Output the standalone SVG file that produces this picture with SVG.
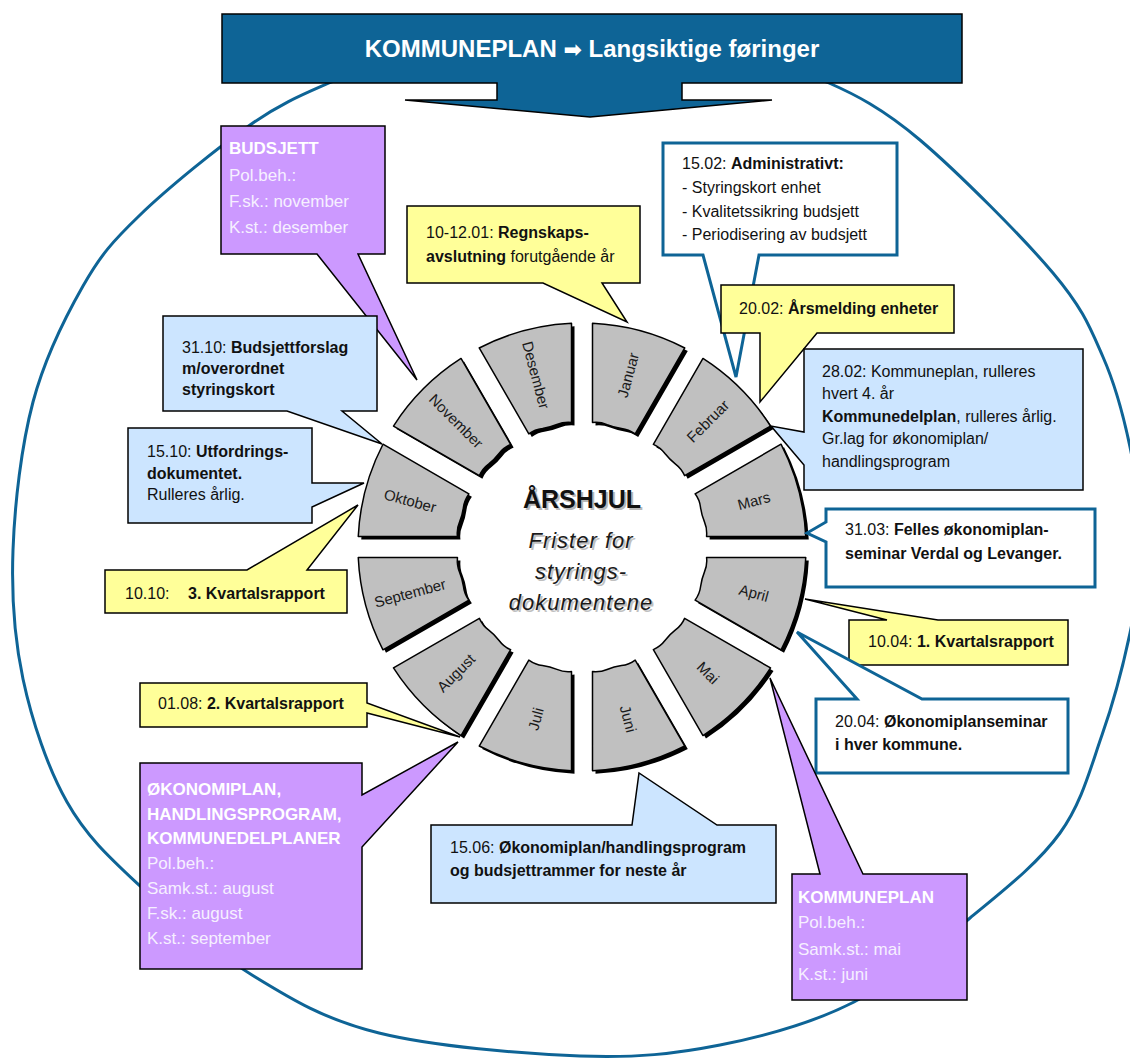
<svg xmlns="http://www.w3.org/2000/svg" xmlns:xlink="http://www.w3.org/1999/xlink" width="1130" height="1059" viewBox="0 0 1130 1059">
<style>
.seg{fill:#c0c0c0;stroke:#000;stroke-width:1.5;stroke-linejoin:round}
.segsh{fill:#000}
.mon{font-family:'Liberation Sans',Arial,sans-serif;font-size:15px;fill:#1a1a1a;text-anchor:middle}
.y{fill:#ffff99;stroke:#000;stroke-width:1.5}
.b{fill:#cce5ff;stroke:#000;stroke-width:1.5}
.w{fill:#fff;stroke:#0e6496;stroke-width:3}
.p{fill:#cc99ff;stroke:#000;stroke-width:1.5}
.t{font-family:'Liberation Sans',Arial,sans-serif;font-size:16px;fill:#111}
.pt{font-family:'Liberation Sans',Arial,sans-serif;font-size:17px;fill:#f6f0ff}
.bd{font-weight:bold}
.pb{font-weight:bold;fill:#fff}
</style>
<defs>
<path id="seg" d="M10.5,-223.75 A224,224 0 0 1 102.78,-199.02 L53.19,-113.12 Q46.5,-117.8 39.5,-118.6 Q32,-119.6 25.1,-122.4 Q18,-125.5 10.5,-124.56 Z"/>
</defs>
<rect width="1130" height="1059" fill="#fff"/>

<g id="connectors">
<path id="cycle" fill="none" stroke="#0e6496" stroke-width="3" d="M579,35 C662,35 804,72 829,83 C854,94 882.7,108.3 920,140 C957.3,171.7 1022.5,236.8 1053,273 C1083.5,309.2 1090.2,328 1103,357 C1115.8,386 1123.5,415.7 1130,447 C1136.5,478.3 1142,514 1142,545 C1142,576 1136.7,601.3 1130,633 C1123.3,664.7 1113.7,701.7 1102,735 C1090.3,768.3 1082,802.5 1060,833 C1038,863.5 1004.3,889.8 970,918 C935.7,946.2 895.7,980.8 854,1002 C812.3,1023.2 765.7,1036 720,1045 C674.3,1054 636.8,1058 580,1056 C523.2,1054 433.7,1046.5 379,1033 C324.3,1019.5 291.8,999.5 252,975 C212.2,950.5 170.8,914.8 140,886 C109.2,857.2 86.5,836.5 67,802 C47.5,767.5 32,721 23,679 C14,637 11.3,596.2 13,550 C14.7,503.8 21.3,446 33,402 C44.7,358 65.2,317.2 83,286 C100.8,254.8 112.2,241.8 140,215 C167.8,188.2 218.5,147 250,125 C281.5,103 304,94 329,83 C354,72 496,35 579,35 Z"/>
</g>

<g id="banner">
<path d="M222,14 H962 V83 H682 V100 H772 L590,117 L405,100 H497 V83 H222 Z" fill="#0e6496" stroke="#000" stroke-width="1.5"/>
<text x="592" y="57" text-anchor="middle" font-family="'Liberation Sans',Arial,sans-serif" font-size="24" font-weight="bold" fill="#fff">KOMMUNEPLAN <tspan font-family="'DejaVu Sans',sans-serif" font-size="22">➡</tspan> Langsiktige føringer</text>
</g>

<g id="wheel">
<g id="m-januar"><use xlink:href="#seg" class="segsh" transform="translate(585,550) rotate(0)"/><use xlink:href="#seg" class="seg" transform="translate(582,547) rotate(0)"/><text class="mon" x="628.1" y="375.1" dy="0.35em" transform="rotate(-75 628.1 375.1)">Januar</text></g>
<g id="m-februar"><use xlink:href="#seg" class="segsh" transform="translate(585,550) rotate(30)"/><use xlink:href="#seg" class="seg" transform="translate(582,547) rotate(30)"/><text class="mon" x="707.9" y="421.1" dy="0.35em" transform="rotate(-45 707.9 421.1)">Februar</text></g>
<g id="m-mars"><use xlink:href="#seg" class="segsh" transform="translate(585,550) rotate(60)"/><use xlink:href="#seg" class="seg" transform="translate(582,547) rotate(60)"/><text class="mon" x="753.9" y="500.9" dy="0.35em" transform="rotate(-15 753.9 500.9)">Mars</text></g>
<g id="m-april"><use xlink:href="#seg" class="segsh" transform="translate(585,550) rotate(90)"/><use xlink:href="#seg" class="seg" transform="translate(582,547) rotate(90)"/><text class="mon" x="753.9" y="593.1" dy="0.35em" transform="rotate(15 753.9 593.1)">April</text></g>
<g id="m-mai"><use xlink:href="#seg" class="segsh" transform="translate(585,550) rotate(120)"/><use xlink:href="#seg" class="seg" transform="translate(582,547) rotate(120)"/><text class="mon" x="707.9" y="672.9" dy="0.35em" transform="rotate(45 707.9 672.9)">Mai</text></g>
<g id="m-juni"><use xlink:href="#seg" class="segsh" transform="translate(585,550) rotate(150)"/><use xlink:href="#seg" class="seg" transform="translate(582,547) rotate(150)"/><text class="mon" x="628.1" y="718.9" dy="0.35em" transform="rotate(75 628.1 718.9)">Juni</text></g>
<g id="m-juli"><use xlink:href="#seg" class="segsh" transform="translate(585,550) rotate(180)"/><use xlink:href="#seg" class="seg" transform="translate(582,547) rotate(180)"/><text class="mon" x="535.9" y="718.9" dy="0.35em" transform="rotate(-75 535.9 718.9)">Juli</text></g>
<g id="m-august"><use xlink:href="#seg" class="segsh" transform="translate(585,550) rotate(210)"/><use xlink:href="#seg" class="seg" transform="translate(582,547) rotate(210)"/><text class="mon" x="456.1" y="672.9" dy="0.35em" transform="rotate(-45 456.1 672.9)">August</text></g>
<g id="m-september"><use xlink:href="#seg" class="segsh" transform="translate(585,550) rotate(240)"/><use xlink:href="#seg" class="seg" transform="translate(582,547) rotate(240)"/><text class="mon" x="410.1" y="593.1" dy="0.35em" transform="rotate(-15 410.1 593.1)">September</text></g>
<g id="m-oktober"><use xlink:href="#seg" class="segsh" transform="translate(585,550) rotate(270)"/><use xlink:href="#seg" class="seg" transform="translate(582,547) rotate(270)"/><text class="mon" x="410.1" y="500.9" dy="0.35em" transform="rotate(15 410.1 500.9)">Oktober</text></g>
<g id="m-november"><use xlink:href="#seg" class="segsh" transform="translate(585,550) rotate(300)"/><use xlink:href="#seg" class="seg" transform="translate(582,547) rotate(300)"/><text class="mon" x="456.1" y="421.1" dy="0.35em" transform="rotate(45 456.1 421.1)">November</text></g>
<g id="m-desember"><use xlink:href="#seg" class="segsh" transform="translate(585,550) rotate(330)"/><use xlink:href="#seg" class="seg" transform="translate(582,547) rotate(330)"/><text class="mon" x="535.9" y="375.1" dy="0.35em" transform="rotate(75 535.9 375.1)">Desember</text></g>
</g>

<g id="center" font-family="'Liberation Sans',Arial,sans-serif" text-anchor="middle">
<text x="584" y="510" font-size="25" font-weight="bold" fill="#b8b8b8">ÅRSHJUL</text>
<text x="582" y="508" font-size="25" font-weight="bold" fill="#111">ÅRSHJUL</text>
<g font-size="22" font-style="italic" letter-spacing="1" fill="#c0c0c0">
<text x="583" y="550">Frister for</text>
<text x="583" y="581">styrings-</text>
<text x="583" y="612">dokumentene</text>
</g>
<g font-size="22" font-style="italic" letter-spacing="1" fill="#1a1a1a">
<text x="581" y="548">Frister for</text>
<text x="581" y="579">styrings-</text>
<text x="581" y="610">dokumentene</text>
</g>
</g>

<g id="c-budsjett">
<path class="p" d="M221,126 H385 V254 H358 L417,380 L317,254 H221 Z"/>
<text class="pt" x="229" y="154"><tspan class="pb">BUDSJETT</tspan><tspan x="229" y="181">Pol.beh.:</tspan><tspan x="229" y="207">F.sk.: november</tspan><tspan x="229" y="233">K.st.: desember</tspan></text>
</g>

<g id="c-regnskap">
<path class="y" d="M407,206 H640 V283 H602 L627,322 L543,283 H407 Z"/>
<text class="t" x="426" y="238">10-12.01: <tspan class="bd">Regnskaps-</tspan><tspan x="426" y="262" class="bd">avslutning</tspan> forutgående år</text>
</g>

<g id="c-admin">
<path class="w" d="M663,143 H897 V255 H759 L736,377 L703,255 H663 Z"/>
<text class="t" x="682" y="169">15.02: <tspan class="bd">Administrativt:</tspan><tspan x="682" y="193">- Styringskort enhet</tspan><tspan x="682" y="217">- Kvalitetssikring budsjett</tspan><tspan x="682" y="240">- Periodisering av budsjett</tspan></text>
</g>

<g id="c-arsmelding">
<path class="y" d="M721,285 H954 V333 H817 L760,402 L760,333 H721 Z"/>
<text class="t" x="739" y="314">20.02: <tspan class="bd">Årsmelding enheter</tspan></text>
</g>

<g id="c-kommuneplan-rull">
<path class="b" d="M804,349 H1083 V490 H804 V465 L771,426 L804,432 Z"/>
<text class="t" x="822" y="377">28.02: Kommuneplan, rulleres<tspan x="822" y="399">hvert 4. år</tspan><tspan x="822" y="422" class="bd">Kommunedelplan</tspan>, rulleres årlig.<tspan x="822" y="444">Gr.lag for økonomiplan/</tspan><tspan x="822" y="467">handlingsprogram</tspan></text>
</g>

<g id="c-budsjettforslag">
<path class="b" d="M163,316 H377 V411 H342 L382,444 L287,411 H163 Z"/>
<text class="t" x="182" y="353">31.10: <tspan class="bd">Budsjettforslag</tspan><tspan x="182" y="374" class="bd">m/overordnet</tspan><tspan x="182" y="395" class="bd">styringskort</tspan></text>
</g>

<g id="c-utfordring">
<path class="b" d="M128,428 H312 V483 L364,483 L312,507 V523 H128 Z"/>
<text class="t" x="147" y="457">15.10: <tspan class="bd">Utfordrings-</tspan><tspan x="147" y="479" class="bd">dokumentet.</tspan><tspan x="147" y="500">Rulleres årlig.</tspan></text>
</g>

<g id="c-kv3">
<path class="y" d="M105,570 H247 L358,505 L307,570 H347 V613 H105 Z"/>
<text class="t" x="125" y="599">10.10:<tspan x="188" class="bd">3. Kvartalsrapport</tspan></text>
</g>

<g id="c-kv2">
<path class="y" d="M140,683 H367 V703 L460,737 L367,713 V727 H140 Z"/>
<text class="t" x="158" y="709">01.08: <tspan class="bd">2. Kvartalsrapport</tspan></text>
</g>

<g id="c-okonomiplan">
<path class="p" d="M140,763 H362 V795 L458,742 L362,847 V969 H140 Z"/>
<text class="pt" x="147" y="795"><tspan class="pb">ØKONOMIPLAN,</tspan><tspan x="147" y="820" class="pb">HANDLINGSPROGRAM,</tspan><tspan x="147" y="844" class="pb">KOMMUNEDELPLANER</tspan><tspan x="147" y="869">Pol.beh.:</tspan><tspan x="147" y="894">Samk.st.: august</tspan><tspan x="147" y="919">F.sk.: august</tspan><tspan x="147" y="944">K.st.: september</tspan></text>
</g>

<g id="c-rammer">
<path class="b" d="M431,825 H632 L639,773 L717,825 H776 V903 H431 Z"/>
<text class="t" x="450" y="853" font-size="15.5">15.06: <tspan class="bd">Økonomiplan/handlingsprogram</tspan><tspan x="450" y="876" class="bd">og budsjettrammer for neste år</tspan></text>
</g>

<g id="c-felles">
<path class="w" d="M826,509 H1095 V587 H826 V542 L807,533 L826,522 Z"/>
<text class="t" x="845" y="535">31.03: <tspan class="bd">Felles økonomiplan-</tspan><tspan x="845" y="559" class="bd">seminar Verdal og Levanger.</tspan></text>
</g>

<g id="c-kv1">
<path class="y" d="M849,620 H887 L805,599 L938,620 H1068 V665 H849 Z"/>
<text class="t" x="868" y="647">10.04: <tspan class="bd">1. Kvartalsrapport</tspan></text>
</g>

<g id="c-seminar">
<path class="w" d="M816,699 H857 L797,632 L922,699 H1068 V773 H816 Z"/>
<text class="t" x="835" y="727">20.04: <tspan class="bd">Økonomiplanseminar</tspan><tspan x="835" y="750" class="bd">i hver kommune.</tspan></text>
</g>

<g id="c-kommuneplan">
<path class="p" d="M792,874 H820 L770,678 L863,874 H967 V1000 H792 Z"/>
<text class="pt" x="798" y="903"><tspan class="pb">KOMMUNEPLAN</tspan><tspan x="798" y="928">Pol.beh.:</tspan><tspan x="798" y="955">Samk.st.: mai</tspan><tspan x="798" y="980">K.st.: juni</tspan></text>
</g>
</svg>
